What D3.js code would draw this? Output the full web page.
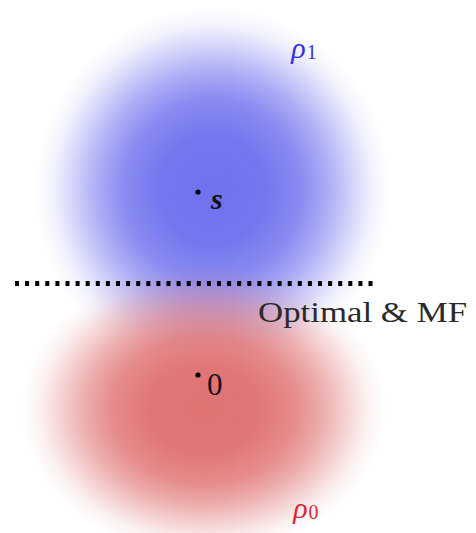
<!DOCTYPE html>
<html>
<head>
<meta charset="utf-8">
<script src="https://cdn.jsdelivr.net/npm/d3@7"></script>
<style>
  html, body { margin: 0; padding: 0; background: #ffffff; }
  svg { display: block; }
</style>
</head>
<body>
<div id="chart"></div>
<script>
// Two Gaussian classes: rho_0 centred at 0, rho_1 centred at s.
const classNames   = ["rho0", "rho1"];
const classCenterX = [0.03, 0.08];      // centre of each shaded density (data units)
const classCenterY = [-0.19, 1.01];
const classRadiusX = [1.0, 0.97];
const classRadiusY = [0.8, 1.0];
const classColors  = ["#e07272", "#7072ee"];
const labelColors  = ["#d42a3a", "#3434d8"];

// Marked points (means) and their labels
const pointNames = ["0", "s"];
const pointX     = [0, 0];
const pointY     = [0, 1];

// Decision threshold shared by the optimal detector and the matched filter
const thresholdY    = [0.5];
const thresholdSpan = [-1.0, 0.98];
const thresholdText = ["Optimal & MF"];

// Density labels
const densityLabelX = [0.52, 0.51];
const densityLabelY = [-0.78, 1.73];

const W = 476, H = 533;
const x = d3.scaleLinear().domain([0, 1]).range([198, 381]);
const y = d3.scaleLinear().domain([0, 1]).range([375, 192]);
const px = v => x(v) - x(0);   // data length -> pixels (x)
const py = v => y(0) - y(v);   // data length -> pixels (y)

const svg = d3.select("#chart").append("svg")
  .attr("width", W).attr("height", H);

const defs = svg.append("defs");
const fadeStops = [
  [0.00, 1.00], [0.30, 0.97], [0.50, 0.82], [0.65, 0.58],
  [0.80, 0.28], [0.90, 0.09], [1.00, 0.00]
];
classNames.forEach((name, i) => {
  const g = defs.append("radialGradient").attr("id", "grad-" + name)
    .attr("cx", "50%").attr("cy", "50%").attr("r", "50%");
  fadeStops.forEach(([o, a]) => {
    g.append("stop").attr("offset", o)
      .attr("stop-color", classColors[i]).attr("stop-opacity", a);
  });
});

// Draw rho_1 first, then rho_0 over it
const order = [1, 0];
svg.append("g").selectAll("ellipse").data(order).join("ellipse")
  .attr("cx", i => x(classCenterX[i]))
  .attr("cy", i => y(classCenterY[i]))
  .attr("rx", i => px(classRadiusX[i]))
  .attr("ry", i => py(classRadiusY[i]))
  .attr("fill", i => "url(#grad-" + classNames[i] + ")");

// Threshold line (square dots)
svg.append("g").selectAll("line").data(thresholdY).join("line")
  .attr("x1", x(thresholdSpan[0])).attr("x2", x(thresholdSpan[1]))
  .attr("y1", d => y(d)).attr("y2", d => y(d))
  .attr("stroke", "#000").attr("stroke-width", 5)
  .attr("stroke-dasharray", "4 6.1");

svg.append("text")
  .attr("x", 258).attr("y", y(thresholdY[0]) + 38)
  .attr("font-family", "'Liberation Serif', 'DejaVu Serif', serif")
  .attr("font-size", 29).attr("fill", "#2a2a2a")
  .attr("textLength", 209).attr("lengthAdjust", "spacingAndGlyphs")
  .text(thresholdText[0]);

// Mean points
svg.append("g").selectAll("circle").data(pointNames).join("circle")
  .attr("cx", (d, i) => x(pointX[i]))
  .attr("cy", (d, i) => y(pointY[i]))
  .attr("r", 2.6).attr("fill", "#000");

const pl = svg.append("g").attr("font-family", "'Liberation Serif', 'DejaVu Serif', serif")
  .attr("fill", "#111");
pl.append("text")
  .attr("x", x(pointX[1]) + 13).attr("y", y(pointY[1]) + 17)
  .attr("font-size", 30).attr("font-style", "italic").attr("font-weight", "bold")
  .text(pointNames[1]);
pl.append("text")
  .attr("x", x(pointX[0]) + 9).attr("y", y(pointY[0]) + 20)
  .attr("font-size", 31)
  .text(pointNames[0]);

// Density labels rho_0 / rho_1
const dl = svg.append("g").attr("font-family", "'Liberation Serif', 'DejaVu Serif', serif");
[1, 0].forEach(i => {
  const t = dl.append("text")
    .attr("x", x(densityLabelX[i]))
    .attr("y", y(densityLabelY[i]))
    .attr("fill", labelColors[i]);
  t.append("tspan").attr("font-style", "italic").attr("font-size", 30).text("ρ");
  t.append("tspan").attr("font-size", 20).attr("dx", 1).attr("dy", 1).text(String(i));
});
</script>
</body>
</html>
